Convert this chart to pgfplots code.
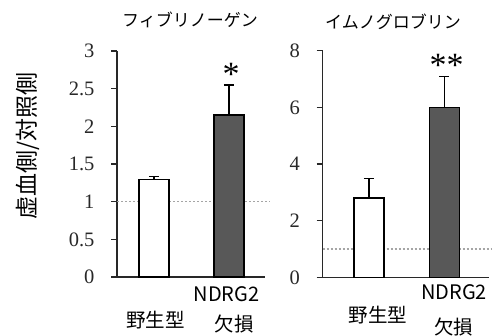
\documentclass[border=0pt]{standalone}
\usepackage{pgfplots}
\pgfplotsset{compat=1.18}
\usepackage{fontspec}
\setmainfont{Noto Sans CJK JP}
\newfontfamily\serif{Liberation Serif}
\definecolor{darkbar}{RGB}{88,88,88}
\definecolor{axisc}{RGB}{40,40,40}
\definecolor{dotc}{RGB}{165,165,165}
\pgfplotsset{
  myax/.style={
    scale only axis,
    anchor=south west,
    axis x line*=bottom, axis y line*=left,
    axis line style={axisc, line width=1.4pt},
    xtick=\empty,
    tick align=outside,
    major tick length=6pt,
    tick style={axisc, line width=1.4pt},
    yticklabel style={font=\serif\fontsize{20.5}{20.5}\selectfont, text=axisc, xshift=-13pt},
    /pgf/number format/assume math mode=true,
    ymin=0,
    clip=false,
    ybar, bar width=30pt,
  },
  mybar/.style={bar shift=0pt, draw=black, line width=1.3pt,
    error bars/.cd, y dir=plus, y explicit,
    error bar style={black, line width=1.3pt},
    error mark options={black, line width=1.3pt, rotate=90, mark size=5pt},
    /pgfplots/.cd},
}
\begin{document}
\begin{tikzpicture}[x=1pt,y=1pt]
\useasboundingbox (0,0) rectangle (497,336);
% left panel
\begin{axis}[myax, at={(117pt,59pt)}, width=148pt, height=226pt,
  xmin=-0.493, xmax=1.48, ymax=3, ytick={0,0.5,1,1.5,2,2.5,3}]
  \draw[dotc, line width=1.5pt, dash pattern=on 2pt off 2pt] (axis cs:-0.49,1) -- (axis cs:1.55,1);
  \addplot[fill=white, mybar] coordinates {(0,1.29) +- (0,0.04)};
  \addplot[fill=darkbar, mybar] coordinates {(1,2.15) +- (0,0.40)};
\end{axis}
% right panel
\begin{axis}[myax, at={(322.5pt,58.7pt)}, width=166.5pt, height=226.6pt,
  xmin=-0.616, xmax=1.59, ymax=8, ytick={0,2,4,6,8}]
  \draw[dotc, line width=1.5pt, dash pattern=on 2pt off 2pt] (axis cs:-0.616,1) -- (axis cs:1.63,1);
  \addplot[fill=white, mybar] coordinates {(0,2.8) +- (0,0.7)};
  \addplot[fill=darkbar, mybar] coordinates {(1,6.0) +- (0,1.1)};
\end{axis}
% titles
\node[font=\fontsize{17}{17}\selectfont] at (190,316) {フィブリノーゲン};
\node[font=\fontsize{17}{17}\selectfont] at (393,314) {イムノグロブリン};
% y label
\node[rotate=90, font=\fontsize{23}{23}\selectfont] at (27.5,190) {虚血側/対照側};
% asterisks
\node[font=\fontsize{34}{34}\selectfont\serif] at (231,262) {*};
\node[font=\fontsize{34}{34}\selectfont\serif] at (446.5,271) {**};
% x labels
\node[font=\fontsize{19.5}{19.5}\selectfont] at (155.5,16) {野生型};
\node[font=\fontsize{20}{20}\selectfont] at (226.5,42) {NDRG2};
\node[font=\fontsize{19.5}{19.5}\selectfont] at (234,12) {欠損};
\node[font=\fontsize{19.5}{19.5}\selectfont] at (378,21) {野生型};
\node[font=\fontsize{20}{20}\selectfont] at (454,44) {NDRG2};
\node[font=\fontsize{19.5}{19.5}\selectfont] at (453.5,9) {欠損};
\end{tikzpicture}
\end{document}
